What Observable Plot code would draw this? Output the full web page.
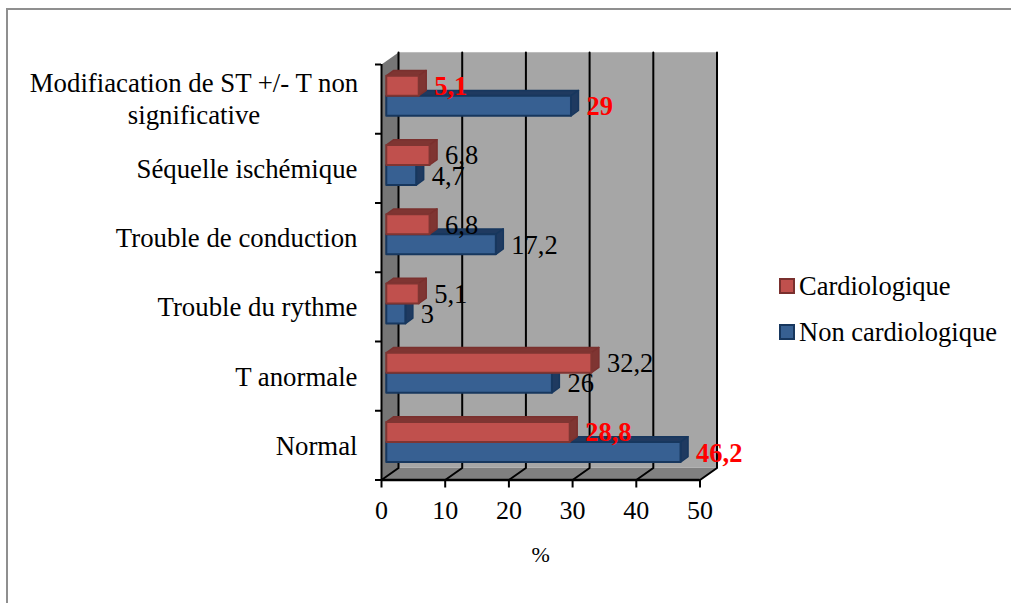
<!DOCTYPE html>
<html><head><meta charset="utf-8">
<script src="https://cdn.jsdelivr.net/npm/d3@7"></script>
<script src="https://cdn.jsdelivr.net/npm/@observablehq/plot@0.6"></script>
<style>
html,body{margin:0;padding:0;background:#fff;overflow:hidden}
body{width:1011px;height:603px;position:relative;font-family:"Liberation Serif",serif}
#frame{position:absolute;left:6px;top:8px;right:-4px;bottom:-4px;border-left:2px solid #8f8f8f;border-top:2px solid #8f8f8f}
#chart{position:absolute;left:0;top:0}
#chart svg{overflow:visible;background:transparent}
.leg{position:absolute;left:779px;display:flex;align-items:center;font-size:26.5px;line-height:30px;color:#000;white-space:nowrap}
.leg i{display:block;box-sizing:border-box;width:16px;height:16px;margin-right:4px;border:2px solid}
</style></head><body>
<div id="frame"></div>
<div id="chart"></div>
<div class="leg" style="top:271px"><i style="background:#C0504D;border-color:#7A302E"></i>Cardiologique</div>
<div class="leg" style="top:317px"><i style="background:#376092;border-color:#17375E"></i>Non cardiologique</div>
<script>
const categories = ["Normal","T anormale","Trouble du rythme","Trouble de conduction","Séquelle ischémique","Modifiacation de ST +/- T non\nsignificative"];
const cardiologique = [28.8,32.2,5.1,6.8,6.8,5.1];
const nonCardiologique = [46.2,26,3,17.2,4.7,29];
const highlighted = [true,false,false,false,false,true];
const xTicks = [0,10,20,30,40,50];
const yTicks = [0,1,2,3,4,5,6];

const depthX = 2.67, depthY = 0.1735, barH = 0.289, barD0 = 0.28, barD1 = 0.72;
const P = (v,y,d) => ({x: v + d*depthX, y: y + d*depthY});
const poly = (id, pts) => pts.map(p => ({id, ...p}));

function barFaces(values, y0fn){
  const front=[], top=[];
  values.forEach((v,i)=>{
    const y0=y0fn(i), y1=y0+barH;
    front.push(...poly(i,[P(0,y0,barD0),P(v,y0,barD0),P(v,y1,barD0),P(0,y1,barD0),P(0,y0,barD0)]));
    top.push(...poly("t"+i,[P(0,y1,barD0),P(v,y1,barD0),P(v,y1,barD1),P(0,y1,barD1),P(0,y1,barD0)]));
    top.push(...poly("s"+i,[P(v,y0,barD0),P(v,y1,barD0),P(v,y1,barD1),P(v,y0,barD1),P(v,y0,barD0)]));
  });
  return {front, top};
}
const red = barFaces(cardiologique, i=>i+.5);
const blue = barFaces(nonCardiologique, i=>i+.5-barH);

const labels = [
  ...cardiologique.map((v,i)=>({...P(v,i+.5+barH/2,barD0),v,i})),
  ...nonCardiologique.map((v,i)=>({...P(v,i+.5-barH/2,barD0),v,i}))
];
const fmt = v => String(v).replace(".",",");
const wall = poly("w",[P(0,0,1),P(50,0,1),P(50,6,1),P(0,6,1)]);
const side = poly("l",[P(0,0,0),P(0,0,1),P(0,6,1),P(0,6,0)]);
const floor = poly("f",[P(0,0,0),P(50,0,0),P(50,0,1),P(0,0,1)]);
const grid = xTicks.flatMap(v=>poly(v,[P(v,0,0),P(v,0,1),P(v,6,1)]));
const f = {x:"x",y:"y",z:"id"};

const chart = Plot.plot({
  width:1011,height:603,
  marginLeft:381,marginRight:311.5,marginTop:64,marginBottom:123.5,
  style:{fontFamily:'"Liberation Serif",serif',background:"transparent",color:"#000"},
  x:{domain:[0,50],label:null},
  y:{domain:[0,6],label:null},
  marks:[
    Plot.line(wall,{...f,fill:"#A6A6A6",stroke:"#BDBDBD",strokeWidth:1}),
    Plot.line(side,{...f,fill:"#767676",stroke:"none"}),
    Plot.line(floor,{...f,fill:"#808080",stroke:"none"}),
    Plot.line(grid,{...f,stroke:"#000",strokeWidth:2}),
    Plot.axisX({ticks:xTicks,tickSize:8,tickPadding:13,fontSize:26,tickFormat:d=>String(d),label:null,strokeWidth:2}),
    Plot.axisY({ticks:yTicks,tickSize:6,tickFormat:()=>"",label:null,strokeWidth:2}),
    Plot.ruleY([0],{stroke:"#000",strokeWidth:2.5}),
    Plot.ruleX([0],{stroke:"#000",strokeWidth:2}),
    Plot.line(blue.top,{...f,fill:"#1F3A60",stroke:"#17375E",strokeWidth:1.5}),
    Plot.line(blue.front,{...f,fill:"#376092",stroke:"#17375E",strokeWidth:2}),
    Plot.line(red.top,{...f,fill:"#7F3532",stroke:"#7A302E",strokeWidth:1.5}),
    Plot.line(red.front,{...f,fill:"#C0504D",stroke:"#7F3532",strokeWidth:2}),
    Plot.text(labels.filter(d=>!highlighted[d.i]),{x:"x",y:"y",text:d=>fmt(d.v),dx:15.5,dy:1,textAnchor:"start",fontSize:26.5,fill:"#000"}),
    Plot.text(labels.filter(d=>highlighted[d.i]),{x:"x",y:"y",text:d=>fmt(d.v),dx:15.5,dy:1,textAnchor:"start",fontSize:26.5,fill:"#FF0000",fontWeight:"bold"}),
    Plot.text(categories.map((c,i)=>({c,i})).slice(0,5),{x:()=>0,y:d=>d.i+.5,text:"c",dx:-24,dy:1,textAnchor:"end",fontSize:26.8}),
    Plot.text(categories.slice(5),{x:()=>0,y:()=>5.5,text:d=>d,dx:-187.5,dy:-1,textAnchor:"middle",fontSize:26.8,lineHeight:1.17}),
    Plot.text(["%"],{x:()=>25,y:()=>0,dy:75,fontSize:22,text:d=>d})
  ]
});
document.getElementById("chart").appendChild(chart);
</script>
</body></html>
